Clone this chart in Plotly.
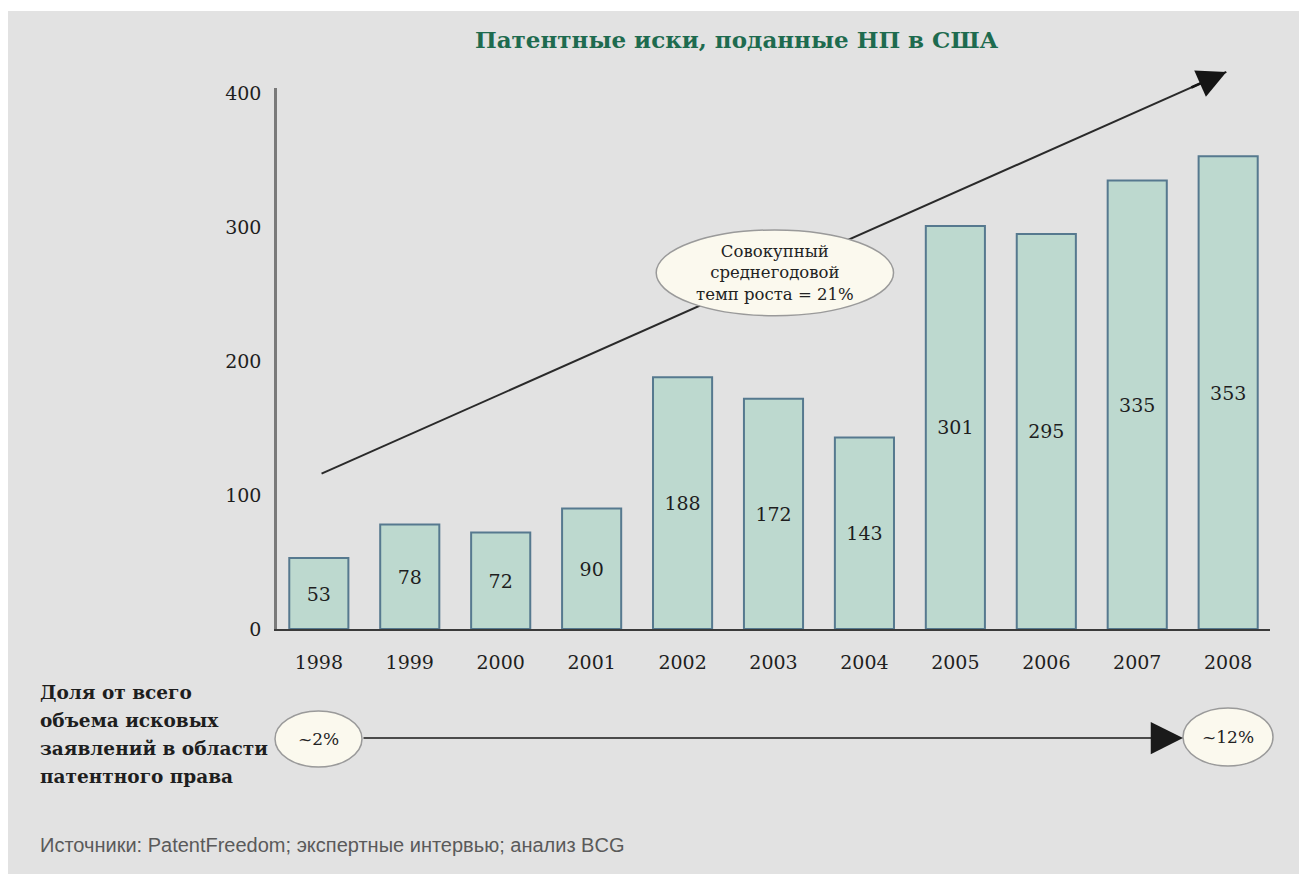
import plotly.graph_objects as go

# Data
years = [1998, 1999, 2000, 2001, 2002, 2003, 2004, 2005, 2006, 2007, 2008]
suits = [53, 78, 72, 90, 188, 172, 143, 301, 295, 335, 353]
y_ticks = [0, 100, 200, 300, 400]

title_text = "Патентные иски, поданные НП в США"
cagr_lines = ["Совокупный", "среднегодовой", "темп роста = 21%"]
share_label_lines = ["Доля от всего", "объема исковых", "заявлений в области", "патентного права"]
share_start = "~2%"
share_end = "~12%"
source_text = "Источники: PatentFreedom; экспертные интервью; анализ BCG"

# Trend arrow (data coordinates: year, value)
trend_start = (1998.03, 116)
trend_end = (2007.98, 416)

# Axis ranges
X_RANGE = (1997.54, 2008.46)
Y_RANGE = (0, 404)

# Layout geometry (pixels)
W, H = 1299, 874
L, R, T, B = 277, 29, 88, 245
PW, PH = W - L - R, H - T - B

def px_x(px):
    return (px - L) / PW

def px_y(py):
    return (H - B - py) / PH

def data_to_paper(x, y):
    return ((x - X_RANGE[0]) / (X_RANGE[1] - X_RANGE[0]),
            (y - Y_RANGE[0]) / (Y_RANGE[1] - Y_RANGE[0]))

SERIF = "DejaVu Serif"
BG = "#e2e2e2"
BUBBLE_FILL = "#fbf9ee"
BUBBLE_LINE = "#9a9a9a"

fig = go.Figure()
fig.add_trace(go.Bar(
    x=years, y=suits, width=0.65,
    marker=dict(color="#bdd9cf", line=dict(color="#56798f", width=2)),
    text=[str(v) for v in suits], textposition="inside", insidetextanchor="middle",
    textangle=0, constraintext="none",
    textfont=dict(family=SERIF, size=19, color="#1e1e1e"),
    hoverinfo="skip",
))

ts = data_to_paper(*trend_start)
te = data_to_paper(*trend_end)

shapes = []
# grey panel
shapes.append(dict(type="rect", xref="paper", yref="paper",
                   x0=px_x(8), x1=px_x(W + 5), y0=px_y(H + 5), y1=px_y(11),
                   fillcolor=BG, line=dict(width=0), layer="below"))
# trend line (paper refs so it can run above the plot area)
shapes.append(dict(type="line", xref="paper", yref="paper",
                   x0=ts[0], y0=ts[1], x1=te[0], y1=te[1],
                   line=dict(color="#2a2a2a", width=2), layer="above"))
# CAGR bubble
shapes.append(dict(type="circle", xref="x", yref="y",
                   x0=2001.71, x1=2004.32, y0=234, y1=298,
                   fillcolor=BUBBLE_FILL, line=dict(color=BUBBLE_LINE, width=1.5), layer="above"))
# share bubbles
shapes.append(dict(type="circle", xref="paper", yref="paper",
                   x0=px_x(275), x1=px_x(362), y0=px_y(767), y1=px_y(711),
                   fillcolor=BUBBLE_FILL, line=dict(color=BUBBLE_LINE, width=1.5), layer="above"))
shapes.append(dict(type="circle", xref="paper", yref="paper",
                   x0=px_x(1183), x1=px_x(1273), y0=px_y(766), y1=px_y(708),
                   fillcolor=BUBBLE_FILL, line=dict(color=BUBBLE_LINE, width=1.5), layer="above"))

annotations = []

def text_at(text, px, py, size, color="#222222", family=SERIF, xanchor="center"):
    annotations.append(dict(text=text, xref="paper", yref="paper", x=px_x(px), y=px_y(py),
                            xanchor=xanchor, yanchor="middle",
                            align=xanchor if xanchor != "center" else "center",
                            showarrow=False, font=dict(family=family, size=size, color=color)))

text_at("<b>" + title_text + "</b>", 737, 40, 23, color="#1e6b4f")

# trend arrowhead: short tail along the line direction, in pixels
seg_dx = (te[0] - ts[0]) * PW
seg_dy = (te[1] - ts[1]) * PH
seg_len = (seg_dx ** 2 + seg_dy ** 2) ** 0.5
tail = 40
annotations.append(dict(x=te[0], y=te[1], xref="paper", yref="paper",
                        ax=-seg_dx / seg_len * tail, ay=seg_dy / seg_len * tail,
                        axref="pixel", ayref="pixel",
                        text="", showarrow=True, arrowhead=2, arrowsize=2.3, arrowwidth=2.5,
                        arrowcolor="#151515", standoff=0, startstandoff=0))
annotations.append(dict(text="<br>".join(cagr_lines), x=2003.015, y=266, xref="x", yref="y",
                        xanchor="center", yanchor="middle",
                        showarrow=False, font=dict(family=SERIF, size=16.5, color="#222222")))
# share arrow
annotations.append(dict(x=px_x(1183), y=px_y(738), ax=-(1183 - 362), ay=0,
                        xref="paper", yref="paper", axref="pixel", ayref="pixel",
                        text="", showarrow=True, arrowhead=2, arrowsize=4.3, arrowwidth=1.5,
                        arrowcolor="#1a1a1a", standoff=0, startstandoff=0))
text_at(share_start, 318, 739, 17)
text_at(share_end, 1228, 737, 17)

for i, line in enumerate(share_label_lines):
    text_at("<b>" + line + "</b>", 38, 692 + 28.3 * i, 18.5, color="#1e1e1e", xanchor="left")

text_at(source_text, 38, 845, 20, color="#5a5a5a", family="Liberation Sans", xanchor="left")

fig.update_layout(
    width=W, height=H,
    margin=dict(l=L, r=R, t=T, b=B, pad=0),
    paper_bgcolor="white", plot_bgcolor="rgba(0,0,0,0)",
    showlegend=False,
    shapes=shapes, annotations=annotations,
    xaxis=dict(range=list(X_RANGE), tickmode="array", tickvals=years,
               ticktext=[str(y) for y in years], showgrid=False, zeroline=False,
               showline=True, linecolor="#3a3a3a", linewidth=2, ticks="",
               ticklabelstandoff=15, tickfont=dict(family=SERIF, size=19, color="#1e1e1e"),
               fixedrange=True),
    yaxis=dict(range=list(Y_RANGE), tickmode="array", tickvals=y_ticks, showgrid=False,
               zeroline=False, showline=True, linecolor="#7a7a7a", linewidth=2.5,
               ticks="", ticklabelstandoff=9,
               tickfont=dict(family=SERIF, size=19, color="#1e1e1e"), fixedrange=True),
)

fig.write_html("out.html", config={"displayModeBar": False})
